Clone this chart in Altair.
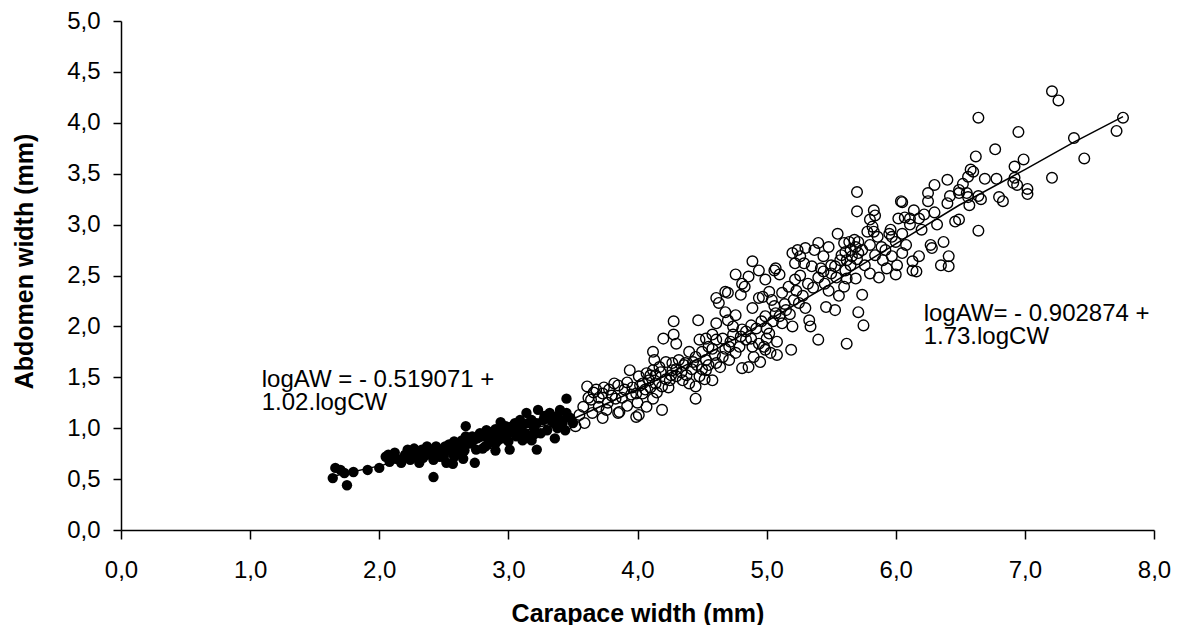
import altair as alt
import pandas as pd

# ---------------- data ----------------
# Juveniles (filled dots): carapace width (mm), abdomen width (mm)
juv_cw = [1.66, 1.70, 1.64, 1.73, 1.75, 1.80, 1.91, 2.00, 2.07, 2.08, 2.13, 2.17, 2.22, 2.24,
          2.29, 2.31, 2.37, 2.39, 2.42, 2.44, 2.47, 2.51, 2.52, 2.56, 2.58, 2.62, 2.65, 2.67,
          2.67, 2.73, 2.74, 2.78, 2.82, 2.83, 2.88, 2.89, 2.94, 2.96, 3.01, 3.03, 3.09, 3.11,
          3.14, 3.16, 3.22, 3.23, 3.27, 3.32, 3.36, 3.40, 3.45, 3.46, 3.50,
          2.35, 2.55, 2.70, 2.85, 3.00, 3.20, 3.35, 2.95, 3.10, 2.40, 2.60, 2.80, 3.25, 3.45,
          3.05, 2.28, 2.45, 2.90, 3.15, 3.30, 3.40,
          2.05, 2.12, 2.20, 2.27, 2.33, 2.38, 2.46, 2.50, 2.54, 2.60, 2.64, 2.68, 2.72, 2.76,
          2.80, 2.86, 2.90, 2.93, 2.98, 3.02, 3.07, 3.12, 3.18, 3.22, 3.28, 3.33, 3.38, 3.42,
          3.48, 2.18, 2.26, 2.34, 2.42, 2.50, 2.58, 2.66, 2.75, 2.84, 2.92, 3.00, 3.06, 3.13,
          3.20, 3.30, 3.38, 3.44, 2.57, 2.90, 3.18]
juv_aw = [0.61, 0.59, 0.51, 0.56, 0.44, 0.57, 0.59, 0.61, 0.74, 0.67, 0.70, 0.66, 0.79, 0.69,
          0.75, 0.66, 0.82, 0.74, 0.52, 0.82, 0.72, 0.82, 0.66, 0.77, 0.87, 0.82, 0.70, 1.02,
          0.92, 0.88, 0.66, 0.95, 0.82, 0.98, 0.87, 0.95, 1.06, 1.00, 0.79, 1.02, 1.08, 0.88,
          1.15, 0.93, 0.79, 1.18, 1.08, 1.15, 0.90, 1.18, 1.29, 1.11, 1.05,
          0.78, 0.80, 0.85, 0.90, 0.95, 1.00, 1.05, 0.90, 0.98, 0.77, 0.76, 0.80, 0.95, 1.15,
          1.05, 0.72, 0.75, 0.85, 1.05, 1.10, 1.08,
          0.72, 0.76, 0.74, 0.80, 0.79, 0.80, 0.79, 0.78, 0.84, 0.85, 0.88, 0.86, 0.92, 0.90,
          0.93, 0.96, 0.99, 0.94, 1.02, 0.97, 1.00, 1.04, 1.08, 1.05, 1.12, 1.08, 1.12, 1.05,
          1.10, 0.70, 0.72, 0.71, 0.69, 0.72, 0.72, 0.78, 0.79, 0.84, 0.88, 0.87, 0.92, 0.95,
          0.94, 0.98, 1.00, 0.98, 0.65, 0.78, 0.88]

# Adults (open circles)
adu_cw = [7.21, 7.26, 6.64, 7.76, 6.95, 7.71, 7.38, 6.77, 6.62, 6.99, 7.46, 6.92, 6.58, 6.60,
          6.56, 6.69, 6.78, 7.21, 6.92, 6.91, 6.94, 7.02, 7.02, 6.49, 6.55, 6.56, 6.64, 6.66,
          6.57, 6.80, 6.83, 6.49, 6.64,
          5.70, 5.70, 5.83, 5.84, 5.80, 5.82, 5.83, 5.78,
          6.04, 6.05, 6.02, 6.07, 6.11, 6.14, 6.18, 6.11,
          6.25, 6.30, 6.40, 6.25, 6.40, 6.46, 6.32, 6.37, 6.27, 6.28, 6.41, 6.35, 6.41, 6.49,
          5.60, 5.64, 5.68, 5.71, 5.69, 5.65, 5.61, 5.71, 5.66, 5.62, 5.57, 5.74,
          5.55, 5.48, 5.40, 5.44, 5.37, 5.30, 5.24, 5.26, 5.20, 5.29, 5.35,
          5.42, 5.44, 5.50, 5.53, 5.61, 5.62, 5.69, 5.60, 5.74, 5.71, 5.75, 5.62, 5.40, 5.46,
          5.53, 5.33, 5.34, 5.25,
          5.80, 5.87, 6.00, 5.93, 6.01, 6.13, 6.16, 6.13, 6.18, 6.05, 5.97, 5.92, 5.84,
          5.97, 6.00, 5.95, 6.05, 5.89,
          4.94, 4.99, 5.06, 5.10, 5.02, 4.97, 5.04, 5.12, 5.17, 5.22, 5.21, 5.15, 5.07, 4.99,
          5.12, 5.20, 5.02, 5.08, 5.19, 4.98, 5.03, 5.22,
          5.08, 4.95, 4.86, 4.81,
          4.28, 4.47, 4.28, 4.30, 4.20, 4.12, 4.13, 3.94,
          4.61, 4.70, 4.63, 4.68, 4.61, 4.70, 4.76, 4.80, 4.83, 4.89, 4.94, 4.88, 4.81, 4.74, 4.71,
          4.48, 4.53, 4.58, 4.61, 4.55, 4.50, 4.45, 4.40, 4.43, 4.37, 4.32, 4.27, 4.22, 4.17,
          4.12, 4.07, 4.01, 4.04, 4.09, 4.14, 4.19, 4.25, 4.30, 4.35, 4.40, 4.45, 4.48, 4.53,
          4.58, 4.61, 4.66, 4.71, 4.79, 4.84, 4.89, 4.94, 4.99, 4.45, 4.53, 4.27, 4.14,
          3.61, 3.68, 3.73, 3.78, 3.85, 3.90, 3.95, 3.83, 3.77, 3.70, 3.64, 3.58, 3.55, 3.59,
          3.52, 3.86, 3.99, 4.01, 4.19, 4.07, 4.00, 4.12, 3.99, 4.04, 3.65, 3.73, 3.85,
          4.89, 4.76, 4.86, 4.81, 4.68, 5.07,
          3.62, 3.66, 3.70, 3.74, 3.80, 3.82, 3.88, 3.92, 3.96, 4.02, 4.06, 4.10, 4.15, 4.18,
          4.22, 4.26, 4.30, 4.34, 4.38, 4.42, 4.46, 4.50, 4.55, 4.60, 4.64, 4.68, 4.72, 4.76,
          4.80, 4.84, 4.88, 4.92, 4.96, 5.00, 5.05, 5.10, 5.14, 5.18, 5.23, 5.28, 5.32, 5.36,
          5.40, 5.45, 5.50, 5.54, 5.58, 5.65, 5.70, 5.76, 5.80, 5.86, 5.90, 5.96, 6.08, 6.20,
          6.22, 6.30, 6.42, 6.52, 3.76, 3.92, 4.10, 4.24, 4.36, 4.52, 4.58, 4.66, 4.74, 4.90,
          5.00, 5.06, 5.26, 5.30, 5.48, 5.56]
adu_aw = [4.31, 4.22, 4.05, 4.05, 3.91, 3.92, 3.85, 3.74, 3.67, 3.64, 3.65, 3.57, 3.54, 3.52,
          3.47, 3.45, 3.45, 3.46, 3.46, 3.41, 3.39, 3.35, 3.30, 3.34, 3.31, 3.27, 3.28, 3.25,
          3.19, 3.27, 3.23, 3.05, 2.94,
          3.32, 3.13, 3.14, 3.09, 3.05, 2.98, 2.93, 2.93,
          3.23, 3.22, 3.06, 3.07, 3.06, 3.14, 3.06, 3.00,
          3.31, 3.39, 3.44, 3.23, 3.21, 3.03, 3.00, 2.83, 2.80, 2.77, 2.69, 2.60, 2.59, 3.31,
          2.82, 2.83, 2.85, 2.83, 2.78, 2.75, 2.73, 2.72, 2.69, 2.65, 2.65, 2.75,
          2.91, 2.78, 2.82, 2.69, 2.75, 2.77, 2.75, 2.69, 2.72, 2.62, 2.59,
          2.57, 2.54, 2.52, 2.59, 2.55, 2.47, 2.47, 2.39, 2.31, 2.14, 2.01, 1.83, 1.87, 2.19,
          2.16, 2.06, 2.00, 2.23,
          2.52, 2.48, 2.51, 2.57, 2.60, 2.55, 2.54, 2.64, 2.69, 2.72, 2.69, 2.75, 2.70,
          2.88, 2.83, 2.91, 2.91, 2.78,
          2.55, 2.46, 2.55, 2.51, 2.34, 2.29, 2.26, 2.33, 2.39, 2.46, 2.26, 2.16, 2.13, 2.10,
          2.03, 2.00, 1.93, 1.85, 1.77, 1.80, 1.74, 2.62,
          1.72, 1.65, 1.60, 1.59,
          2.05, 2.06, 1.92, 1.83, 1.88, 1.75, 1.67, 1.57,
          2.28, 2.33, 2.23, 2.14, 2.03, 2.06, 2.11, 2.31, 2.39, 2.18, 2.28, 2.01, 1.97, 1.92, 1.67,
          1.87, 1.88, 1.92, 1.87, 1.80, 1.75, 1.70, 1.75, 1.65, 1.64, 1.67, 1.64, 1.65, 1.60,
          1.57, 1.54, 1.51, 1.44, 1.47, 1.44, 1.41, 1.47, 1.51, 1.47, 1.44, 1.41, 1.51, 1.57,
          1.47, 1.64, 1.70, 1.80, 1.80, 1.87, 1.80, 1.83, 1.77, 1.29, 1.67, 1.57, 1.52,
          1.41, 1.38, 1.34, 1.38, 1.42, 1.38, 1.33, 1.29, 1.25, 1.21, 1.28, 1.21, 1.13, 1.05,
          1.02, 1.16, 1.11, 1.13, 1.18, 1.21, 1.25, 1.29, 1.34, 1.34, 1.15, 1.10, 1.15,
          2.64, 2.51, 2.49, 2.42, 2.34, 2.57,
          1.30, 1.35, 1.30, 1.40, 1.32, 1.44, 1.30, 1.45, 1.40, 1.42, 1.38, 1.52, 1.35, 1.55,
          1.48, 1.52, 1.58, 1.55, 1.52, 1.58, 1.62, 1.58, 1.62, 1.72, 1.60, 1.78, 1.85, 1.74,
          1.90, 1.95, 1.88, 1.98, 2.05, 1.98, 2.05, 2.10, 2.22, 2.12, 2.35, 2.30, 2.42, 2.38,
          2.48, 2.42, 2.60, 2.48, 2.70, 2.60, 2.66, 2.60, 2.80, 2.88, 2.65, 2.95, 2.80, 2.95,
          3.10, 3.12, 3.28, 3.40, 1.18, 1.22, 1.40, 1.40, 1.62, 1.48, 1.78, 1.88, 2.00, 1.70,
          1.88, 2.20, 2.50, 2.18, 2.35, 2.30]

# Fitted curves as drawn
fit_juv_cw = [1.65, 2.0, 2.5, 3.0, 3.5]
fit_juv_aw = [0.53, 0.63, 0.78, 0.94, 1.09]
fit_adu_cw = [3.5, 4.0, 4.5, 5.0, 5.5, 6.0, 6.49, 7.0, 7.38, 7.76]
fit_adu_aw = [1.09, 1.38, 1.70, 2.05, 2.42, 2.81, 3.19, 3.54, 3.81, 4.06]

x_ticks = [0, 1, 2, 3, 4, 5, 6, 7, 8]
y_ticks = [0, 0.5, 1.0, 1.5, 2.0, 2.5, 3.0, 3.5, 4.0, 4.5, 5.0]

eq_juv = ["logAW = - 0.519071 +", "1.02.logCW"]
eq_adu = ["logAW= - 0.902874 +", "1.73.logCW"]

# ---------------- chart ----------------
FONT = "Liberation Sans"
label_expr = "replace(format(datum.value, '.1f'), '.', ',')"

juv = pd.DataFrame({"cw": juv_cw, "aw": juv_aw})
adu = pd.DataFrame({"cw": adu_cw, "aw": adu_aw})
fj = pd.DataFrame({"cw": fit_juv_cw, "aw": fit_juv_aw})
fa = pd.DataFrame({"cw": fit_adu_cw, "aw": fit_adu_aw})
one = pd.DataFrame({"k": [0]})

xscale = alt.Scale(domain=[0, 8], nice=False, zero=False)
yscale = alt.Scale(domain=[0, 5], nice=False, zero=False)

x_axis = alt.Axis(
    title="Carapace width (mm)", values=x_ticks, labelExpr=label_expr, grid=False,
    domainColor="black", domainWidth=1.5, tickColor="black", tickWidth=1.5, tickSize=9,
    labelFont=FONT, labelFontSize=24, labelColor="black", labelPadding=19, labelFlush=False,
    titleFont=FONT, titleFontSize=25, titleFontWeight="bold", titleColor="black",
    titleBaseline="alphabetic", titleY=91,
)
y_axis = alt.Axis(
    title="Abdomen width (mm)", values=y_ticks, labelExpr=label_expr, grid=False,
    domainColor="black", domainWidth=1.5, tickColor="black", tickWidth=1.5, tickSize=8,
    labelFont=FONT, labelFontSize=24, labelColor="black", labelPadding=13, labelFlush=False,
    titleFont=FONT, titleFontSize=25, titleFontWeight="bold", titleColor="black",
    titleAngle=270, titleBaseline="alphabetic", titleAlign="center", titleX=-89, titleY=240,
)

X = alt.X("cw:Q", scale=xscale, axis=x_axis)
Y = alt.Y("aw:Q", scale=yscale, axis=y_axis)

line_j = alt.Chart(fj).mark_line(color="black", strokeWidth=1.5).encode(x=X, y=Y)
line_a = alt.Chart(fa).mark_line(color="black", strokeWidth=1.5).encode(x=X, y=Y)

pts_j = alt.Chart(juv).mark_circle(color="black", size=108, opacity=1).encode(x=X, y=Y)
pts_a = alt.Chart(adu).mark_point(shape="circle", filled=False, color="black",
                                   size=113, strokeWidth=1.4, opacity=1).encode(x=X, y=Y)

txt_j = alt.Chart(one).mark_text(
    text=eq_juv, align="left", baseline="alphabetic", font=FONT, fontSize=24,
    lineHeight=23, color="black"
).encode(x=alt.X(datum=1.09, scale=xscale), y=alt.Y(datum=1.408, scale=yscale))
txt_a = alt.Chart(one).mark_text(
    text=eq_adu, align="left", baseline="alphabetic", font=FONT, fontSize=24,
    lineHeight=23, color="black"
).encode(x=alt.X(datum=6.216, scale=xscale), y=alt.Y(datum=2.056, scale=yscale))

chart = alt.layer(line_j, line_a, pts_j, pts_a, txt_j, txt_a).properties(
    width=1033, height=509,
    autosize=alt.AutoSizeParams(type="none"),
    padding={"left": 113, "top": 13, "right": 17, "bottom": 95},
    background="white",
).configure_view(stroke=None)

chart.save("out.html", embed_options={"renderer": "svg", "actions": False})
